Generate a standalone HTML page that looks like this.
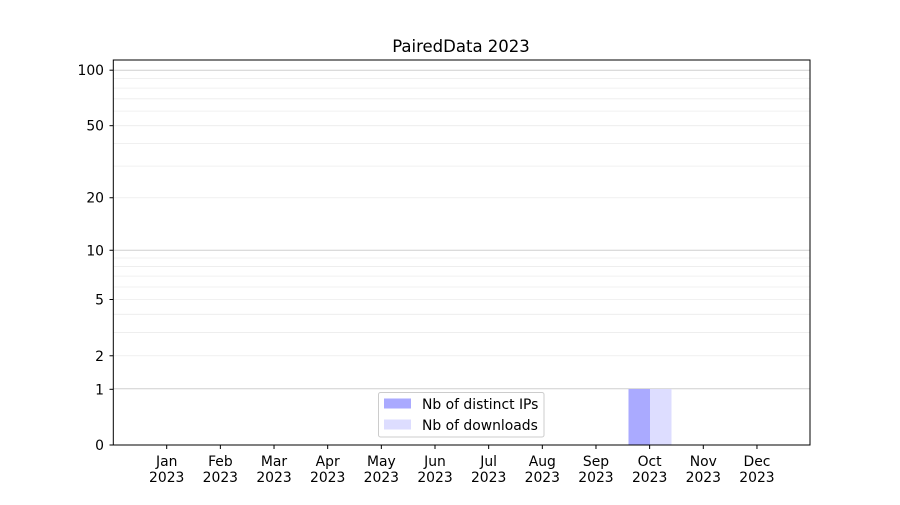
<!DOCTYPE html>
<html><head><meta charset="utf-8"><style>body{margin:0;background:#fff}</style></head><body>
<svg width="900" height="500" xmlns="http://www.w3.org/2000/svg" font-family="'DejaVu Sans', 'Liberation Sans', sans-serif">
<rect width="900" height="500" fill="#fff"/>
<g id="grid"></g>
<rect x="628.5" y="389" width="21.5" height="56" fill="#aaaaff"/>
<rect x="650" y="389" width="21.5" height="56" fill="#ddddff"/>
<rect x="113.3" y="60" width="696.7" height="385" fill="none" stroke="#000" stroke-width="1"/>
<g id="yt" font-size="13.9" text-anchor="end"></g>
<g id="xt" font-size="13.9" text-anchor="middle"></g>
<text x="461" y="52" font-size="16.5" text-anchor="middle">PairedData 2023</text>
<rect x="378.5" y="392.5" width="165.5" height="44.5" fill="#fff" fill-opacity="0.8" stroke="#ccc" rx="2"/>
<rect x="384" y="398.5" width="27" height="10" fill="#aaaaff"/>
<rect x="384" y="419.5" width="27" height="10" fill="#ddddff"/>
<text x="422" y="409" font-size="13.9">Nb of distinct IPs</text>
<text x="422" y="430" font-size="13.9">Nb of downloads</text>
<script>
var ns="http://www.w3.org/2000/svg";
function Y(v){return 445-187*Math.log10(1+v);}
function el(p,t,a,tx){var e=document.createElementNS(ns,t);for(var k in a)e.setAttribute(k,a[k]);if(tx)e.textContent=tx;document.getElementById(p).appendChild(e);}
var minors=[2,3,4,5,6,7,8,9,20,30,40,50,60,70,80,90];
minors.forEach(function(v){var y=Y(v);el("grid","line",{x1:113,x2:810,y1:y,y2:y,stroke:"#ececec","stroke-width":0.8});});
[1,10,100].forEach(function(v){var y=Y(v);el("grid","line",{x1:113,x2:810,y1:y,y2:y,stroke:"#cfcfcf","stroke-width":1});});
[0,1,2,5,10,20,50,100].forEach(function(v){var y=Y(v);if(v==1)y=389.3;el("yt","line",{x1:109.5,x2:113.3,y1:y,y2:y,stroke:"#000"});el("yt","text",{x:104,y:y+5},String(v));});
var m=["Jan","Feb","Mar","Apr","May","Jun","Jul","Aug","Sep","Oct","Nov","Dec"];
m.forEach(function(n,i){var x=166.7+i*53.66;el("xt","line",{x1:x,x2:x,y1:445,y2:449,stroke:"#000"});el("xt","text",{x:x,y:466},n);el("xt","text",{x:x,y:482},"2023");});
</script>
</svg>
</body></html>
